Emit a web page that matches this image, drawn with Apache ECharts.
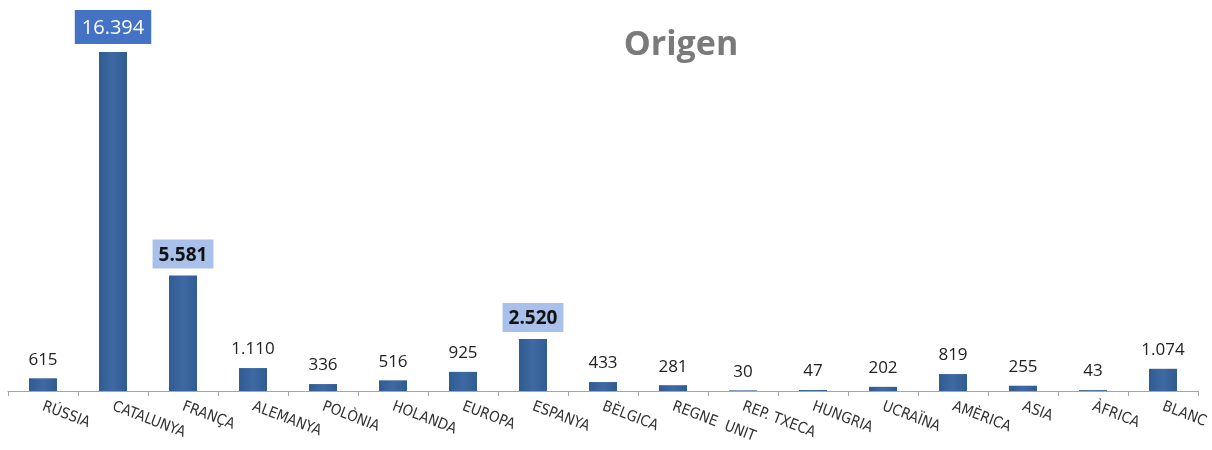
<!DOCTYPE html>
<html>
<head>
<meta charset="utf-8">
<script src="https://cdn.jsdelivr.net/npm/echarts@6/dist/echarts.min.js"></script>
<style>
  html, body { margin: 0; padding: 0; background: #fff; }
  #chart { width: 1212px; height: 450px; }
</style>
</head>
<body>
<div id="chart"></div>
<script>
const categories = ['RÚSSIA', 'CATALUNYA', 'FRANÇA', 'ALEMANYA', 'POLÒNIA', 'HOLANDA', 'EUROPA', 'ESPANYA',
  'BÈLGICA', 'REGNE  UNIT', 'REP. TXECA', 'HUNGRIA', 'UCRAÏNA', 'AMÈRICA', 'ASIA', 'ÀFRICA', 'BLANC']
const visitants = [615, 16394, 5581, 1110, 336, 516, 925, 2520, 433, 281, 30, 47, 202, 819, 255, 43, 1074]
// which labels get a box
const destacats = { 'CATALUNYA': 'fort', 'FRANÇA': 'suau', 'ESPANYA': 'suau' }

const fmt = v => String(v).replace(/\B(?=(\d{3})+(?!\d))/g, '.')

const labelStyles = {
  fort: {
    backgroundColor: '#4472c4',
    color: '#ffffff',
    fontSize: 20,
    padding: [8, 7, 6, 7],
    distance: 8
  },
  suau: {
    backgroundColor: '#a9c0ea',
    color: '#111',
    fontWeight: 'bold',
    fontSize: 19,
    padding: [6, 6, 4, 6],
    distance: 7
  }
}

const seriesData = visitants.map((v, i) => {
  const tipus = destacats[categories[i]]
  return tipus ? { value: v, label: labelStyles[tipus] } : v
})

const chart = echarts.init(document.getElementById('chart'))
chart.setOption({
  animation: false,
  title: {
    text: 'Origen',
    left: 676,
    top: 23,
    textAlign: 'center',
    textStyle: {
      fontFamily: 'Open Sans',
      fontSize: 34,
      fontWeight: 'bold',
      color: '#7a7a7a'
    }
  },
  grid: { left: 8, right: 14, top: 52, bottom: 59 },
  xAxis: {
    type: 'category',
    data: categories,
    axisLine: { lineStyle: { color: '#a6a6a6', width: 1 } },
    axisTick: { show: true, length: 5, lineStyle: { color: '#a6a6a6' } },
    axisLabel: {
      interval: 0,
      rotate: -21,
      margin: 15,
      fontFamily: 'Liberation Sans Narrow, DejaVu Sans Condensed, sans-serif',
      fontSize: 15,
      color: '#333'
    }
  },
  yAxis: {
    type: 'value',
    min: 0,
    max: 'dataMax',
    show: false,
    splitLine: { show: false }
  },
  series: [{
    type: 'bar',
    data: seriesData,
    barWidth: 28,
    itemStyle: {
      color: new echarts.graphic.LinearGradient(0, 0, 1, 0, [
        { offset: 0, color: '#315c92' },
        { offset: 0.5, color: '#3e69a2' },
        { offset: 1, color: '#315c92' }
      ])
    },
    label: {
      show: true,
      position: 'top',
      distance: 10,
      fontFamily: 'Open Sans',
      fontSize: 17,
      color: '#222',
      formatter: p => fmt(p.value)
    }
  }]
})
</script>
</body>
</html>
